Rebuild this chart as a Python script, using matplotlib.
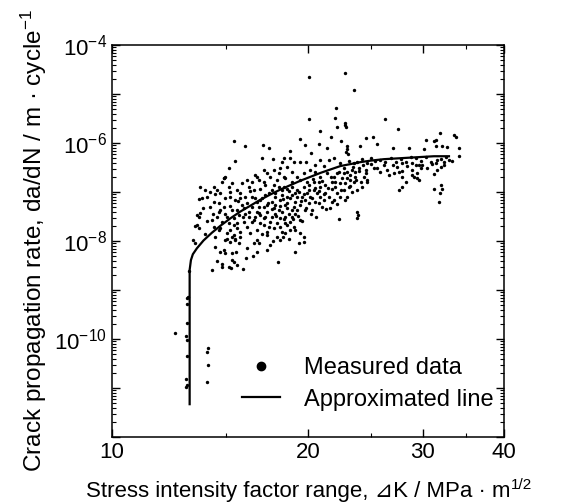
import numpy as np
import matplotlib
matplotlib.use('Agg')
import matplotlib.pyplot as plt
from matplotlib.ticker import FixedLocator, NullFormatter, LogLocator, FixedFormatter
from matplotlib.lines import Line2D
from matplotlib.transforms import IdentityTransform

plt.rcParams['font.family'] = ['Liberation Sans', 'DejaVu Sans']
plt.rcParams['mathtext.fontset'] = 'custom'
plt.rcParams['mathtext.rm'] = 'Liberation Sans'
plt.rcParams['mathtext.it'] = 'Liberation Sans:italic'

# measured data: (delta K [MPa m^1/2], log10 da/dN [m/cycle])
pts_high = [
    (20.07, -4.66), (22.79, -4.58), (23.58, -4.92), (20.07, -5.50), (22.08, -5.29),
    (22.00, -5.48), (22.13, -5.68), (22.84, -5.59), (22.90, -5.67), (22.79, -5.63),
    (26.25, -5.52), (20.86, -5.76), (21.74, -5.88), (22.52, -5.95), (27.49, -5.71),
    (31.86, -5.79), (33.52, -5.84), (33.79, -5.88), (34.07, -6.11), (34.15, -6.27),
    (15.43, -5.95), (16.01, -6.06), (17.05, -6.05), (17.46, -6.10), (18.80, -6.16),
    (19.43, -5.91), (19.83, -6.04), (20.25, -6.21), (20.79, -6.03), (21.41, -6.11),
    (22.98, -6.07), (22.98, -6.13), (22.92, -6.18), (23.03, -6.22), (24.03, -6.07),
    (24.52, -5.90), (25.20, -5.88), (25.55, -6.01), (26.98, -6.11), (28.58, -6.11),
    (30.14, -6.12), (30.39, -5.93), (31.23, -5.96), (31.41, -6.06), (32.16, -6.07),
    (32.73, -6.09), (31.49, -5.94),
]

pts_band1 = [
    (15.47, -6.36), (17.00, -6.31), (17.66, -6.33), (18.26, -6.39), (18.41, -6.31),
    (18.80, -6.30), (19.03, -6.38), (19.48, -6.38), (19.88, -6.38), (20.54, -6.45),
    (20.91, -6.35), (21.16, -6.47), (21.53, -6.35), (21.92, -6.31), (22.44, -6.40),
    (23.12, -6.36), (23.52, -6.41), (23.80, -6.38), (24.23, -6.33), (24.66, -6.41),
    (24.96, -6.31), (25.40, -6.36), (25.85, -6.35), (26.31, -6.38), (26.79, -6.31),
    (27.27, -6.38), (27.75, -6.33), (28.25, -6.38), (28.75, -6.28), (29.27, -6.31),
    (29.79, -6.36), (30.32, -6.28), (30.86, -6.38), (31.60, -6.35), (32.35, -6.38),
    (32.92, -6.35), (33.32, -6.37), (27.91, -6.41), (28.92, -6.41), (29.61, -6.45),
    (15.11, -6.50), (17.11, -6.55), (18.15, -6.52), (18.58, -6.48), (18.91, -6.59),
    (19.25, -6.69), (19.71, -6.62), (20.13, -6.55), (20.54, -6.59), (20.91, -6.69),
    (21.41, -6.62), (21.92, -6.69), (22.31, -6.59), (22.71, -6.62), (22.98, -6.72),
    (23.25, -6.65), (23.66, -6.69), (23.94, -6.52), (24.52, -6.55), (24.66, -6.76),
    (25.55, -6.52), (26.47, -6.55), (27.10, -6.62), (27.59, -6.59), (27.91, -6.69),
    (28.25, -6.79), (28.92, -6.55), (29.09, -6.69), (29.44, -6.62), (29.79, -6.52),
    (31.23, -6.63), (31.97, -6.48), (32.35, -6.45), (31.60, -6.55), (16.61, -6.65),
    (16.81, -6.76), (17.52, -6.69), (17.94, -6.76), (18.48, -6.72), (19.48, -6.76),
    (19.95, -6.79), (20.37, -6.74), (20.79, -6.79), (23.52, -6.79),
]

pts_band2 = [
    (13.67, -6.89), (13.92, -6.96), (14.17, -6.99), (14.42, -7.04), (14.94, -6.69),
    (14.89, -6.72), (14.68, -7.03), (15.20, -6.99), (15.75, -7.03), (16.22, -6.89),
    (16.51, -6.96), (16.90, -6.93), (17.21, -7.06), (17.72, -6.86), (18.04, -6.89),
    (18.26, -6.96), (18.58, -6.93), (18.91, -6.89), (19.25, -6.96), (19.71, -6.89),
    (20.07, -6.86), (20.42, -6.96), (20.91, -6.89), (21.28, -6.86), (21.79, -6.93),
    (22.18, -7.03), (22.71, -6.96), (23.12, -6.89), (23.39, -6.99), (23.80, -6.96),
    (24.23, -6.89), (24.66, -6.79), (27.59, -6.96), (27.91, -6.89), (31.23, -6.93),
    (31.97, -6.86), (32.16, -6.93), (31.89, -7.01), (29.44, -6.72), (29.61, -6.76),
    (13.75, -7.13), (14.00, -7.10), (14.33, -7.20), (14.59, -7.23), (14.85, -7.30),
    (15.17, -7.10), (15.47, -7.16), (15.75, -7.13), (16.12, -7.23), (16.42, -7.10),
    (16.71, -7.20), (17.00, -7.13), (17.31, -7.27), (17.62, -7.20), (17.83, -7.10),
    (18.15, -7.16), (18.48, -7.27), (18.80, -7.13), (19.14, -7.20), (19.48, -7.27),
    (19.83, -7.16), (20.18, -7.10), (20.54, -7.20), (20.91, -7.10), (21.03, -7.30),
    (21.66, -7.33), (21.92, -7.16), (22.44, -7.10), (22.84, -7.16), (31.78, -7.20),
    (14.17, -7.30), (14.68, -7.37), (15.29, -7.37), (15.94, -7.33), (16.81, -7.30),
    (17.72, -7.33), (18.58, -7.33), (19.25, -7.37), (23.80, -7.40), (23.86, -7.47),
]

pts_band3 = [
    (13.51, -7.47), (13.59, -7.50), (13.67, -7.42), (14.25, -7.57), (14.50, -7.50),
    (14.77, -7.61), (15.03, -7.50), (15.38, -7.54), (15.66, -7.47), (15.94, -7.61),
    (16.22, -7.50), (16.51, -7.57), (16.90, -7.47), (17.21, -7.50), (17.52, -7.61),
    (17.83, -7.44), (18.15, -7.54), (18.48, -7.50), (18.80, -7.61), (19.14, -7.44),
    (19.48, -7.57), (22.31, -7.56), (23.80, -7.54),
    (13.51, -7.67), (13.59, -7.74), (14.33, -7.71), (14.59, -7.78), (15.03, -7.84),
    (15.20, -7.78), (15.38, -7.88), (15.57, -7.74), (15.75, -7.81), (16.12, -7.71),
    (16.71, -7.78), (17.11, -7.67), (17.31, -7.81), (17.72, -7.74), (18.15, -7.71),
    (18.48, -7.84), (18.80, -7.78), (19.03, -7.71), (19.71, -7.91), (15.29, -7.91),
    (15.47, -7.98),
    (13.35, -7.98), (13.43, -8.05), (15.03, -7.95), (15.20, -8.01), (15.47, -7.95),
    (15.66, -8.05), (16.12, -8.15), (16.71, -7.98), (16.81, -8.05), (17.52, -8.08),
    (18.15, -7.98), (18.69, -7.95), (19.36, -8.05), (19.71, -8.01), (14.42, -8.12),
    (14.85, -8.18), (14.94, -8.25), (14.68, -8.22), (15.29, -8.25), (15.52, -8.22),
    (16.07, -8.35), (16.71, -8.22), (19.14, -8.22), (15.29, -8.39), (15.38, -8.42),
    (14.77, -8.46), (15.11, -8.54), (15.57, -8.49), (14.77, -8.54), (14.25, -8.59),
    (15.25, -8.56),
]

pts_dense = [
    (16.90, -7.16), (17.11, -7.30), (17.31, -7.40), (17.41, -7.03), (17.62, -6.96),
    (17.83, -7.27), (18.04, -7.37), (18.26, -7.06), (18.37, -6.89), (18.58, -7.10),
    (18.69, -7.44), (18.91, -7.06), (19.03, -7.30), (19.25, -7.10), (19.36, -6.99),
    (19.59, -7.10), (19.83, -7.37), (19.95, -7.03), (20.07, -7.23), (20.30, -7.37),
    (20.42, -6.79), (20.66, -7.03), (20.79, -7.23), (21.16, -7.16), (21.28, -7.03),
    (21.53, -7.10), (21.79, -6.79), (22.05, -6.89), (22.44, -6.82), (22.58, -6.72),
    (22.84, -6.82), (22.98, -7.10), (23.25, -6.76), (23.39, -6.55), (23.66, -6.59),
    (24.09, -6.79), (24.37, -6.69), (16.22, -7.40), (16.42, -7.30), (16.61, -7.50),
    (16.71, -7.40), (16.90, -7.64), (17.11, -7.54), (17.41, -7.71), (17.62, -7.50),
    (17.94, -7.64), (18.26, -7.40), (18.58, -7.67), (18.91, -7.50), (15.84, -7.27),
    (16.03, -7.44), (15.57, -7.37), (15.57, -7.64), (15.11, -7.64), (14.94, -7.44),
    (14.68, -7.74), (15.75, -7.91), (16.32, -7.84), (16.51, -8.05), (17.31, -7.88),
    (17.94, -7.91), (18.26, -7.81), (18.48, -7.64), (19.14, -7.78), (19.48, -7.84),
    (14.33, -6.89), (14.50, -6.96), (14.77, -6.79), (14.85, -6.72), (15.11, -6.89),
    (15.29, -6.82), (15.57, -6.96), (15.84, -6.82), (16.12, -6.76), (16.42, -6.79),
    (16.71, -6.69), (17.11, -6.79), (17.31, -6.62), (17.72, -6.55), (18.04, -6.62),
    (18.37, -6.69), (18.91, -6.79),
]

pts_extra = [
    (17.2, -6.85), (17.4, -7.22), (17.6, -7.35), (17.8, -7.02), (17.9, -7.48),
    (18.1, -7.28), (18.3, -7.15), (18.4, -7.55), (18.6, -7.22), (18.7, -6.98),
    (18.9, -7.36), (19.1, -7.02), (19.3, -7.48), (19.5, -7.18), (19.7, -7.05),
    (19.9, -7.32), (20.1, -6.95), (20.3, -7.12), (20.5, -6.92), (20.8, -6.98),
    (21.0, -6.78), (21.2, -7.05), (21.5, -6.92), (21.7, -6.70), (22.0, -6.80),
    (22.2, -6.62), (22.5, -6.95), (22.7, -6.52), (23.0, -6.60), (23.2, -6.88),
    (23.5, -6.48), (23.7, -6.75), (24.0, -6.58), (24.3, -6.45), (24.6, -6.62),
    (25.0, -6.42), (25.3, -6.50), (25.8, -6.60), (26.2, -6.44), (26.6, -6.66),
    (27.0, -6.45), (27.4, -6.48), (27.9, -6.58), (28.4, -6.46), (28.9, -6.66),
    (29.3, -6.45), (29.9, -6.44), (30.5, -6.50), (31.0, -6.42), (31.5, -6.40),
    (32.0, -6.32), (32.6, -6.28), (16.0, -7.10), (16.3, -6.98), (16.6, -7.12),
    (16.8, -7.42), (15.6, -7.18), (15.9, -7.52), (15.2, -7.28), (14.9, -7.12),
    (14.6, -7.40), (14.3, -7.45), (14.0, -7.60), (13.8, -7.32), (13.9, -7.85),
    (14.4, -7.92), (14.9, -7.98), (15.4, -7.68), (16.4, -7.62), (17.0, -7.85),
    (17.7, -8.00), (18.3, -7.92), (19.0, -7.55), (19.6, -7.60), (20.2, -7.45),
    (20.6, -7.50), (21.3, -7.35), (21.8, -7.20), (22.2, -7.25), (13.6, -7.15),
    (13.4, -7.70), (16.5, -8.30), (17.3, -8.18), (18.0, -8.42), (15.9, -8.58),
    (14.5, -8.40),
]

pts_threshold = [
    (13.15, -8.61), (13.09, -9.14), (13.05, -9.17), (13.07, -9.29), (13.05, -9.68),
    (12.52, -9.88), (13.01, -9.94), (13.05, -10.02), (13.03, -10.34), (13.01, -10.82),
    (13.03, -10.94), (13.01, -10.97), (14.03, -10.18), (14.02, -10.26), (14.05, -10.53),
    (14.02, -10.88),
]

# approximated line
line_dk = [13.17, 13.17, 13.23, 13.32, 13.51, 13.83, 14.25, 14.68, 15.20, 15.75,
           16.32, 16.90, 17.52, 18.15, 18.80, 19.48, 20.18, 20.91, 21.66, 22.44,
           23.25, 24.09, 24.96, 26.16, 27.75, 29.44, 31.23, 32.93]
line_logr = [-11.33, -8.59, -8.39, -8.27, -8.15, -7.99, -7.83, -7.69, -7.54, -7.40,
             -7.28, -7.16, -7.05, -6.95, -6.86, -6.77, -6.69, -6.61, -6.54, -6.47,
             -6.43, -6.39, -6.36, -6.33, -6.31, -6.29, -6.27, -6.27]

meas = np.array(pts_high + pts_band1 + pts_band2 + pts_band3 + pts_dense
                + pts_extra + pts_threshold)

fig = plt.figure(figsize=(5.62, 5.04), dpi=100)
ax = fig.add_axes([0.1988, 0.1329, 0.698, 0.7778])

ax.scatter(meas[:, 0], 10.0 ** meas[:, 1], s=6, color='k', linewidths=0, zorder=2)
ax.plot(line_dk, 10.0 ** np.array(line_logr), color='k', lw=1.6, zorder=3)

ax.set_xscale('log')
ax.set_yscale('log')
ax.set_xlim(10, 40)
ax.set_ylim(1e-12, 1e-4)

ax.xaxis.set_major_locator(FixedLocator([10, 20, 30, 40]))
ax.xaxis.set_major_formatter(FixedFormatter(['10', '20', '30', '40']))
ax.xaxis.set_minor_locator(FixedLocator([15, 25, 35]))
ax.xaxis.set_minor_formatter(NullFormatter())

yt = [10.0 ** e for e in range(-12, -3)]
ylab = ['' if (e % 2 or e == -12) else r'$10^{%d}$' % e for e in range(-12, -3)]
ax.yaxis.set_major_locator(FixedLocator(yt))
ax.yaxis.set_major_formatter(FixedFormatter(ylab))
ax.yaxis.set_minor_locator(LogLocator(base=10, subs=np.arange(2, 10), numticks=20))
ax.yaxis.set_minor_formatter(NullFormatter())

ax.tick_params(which='both', direction='in', top=True, right=True, labelsize=16)
ax.tick_params(which='major', length=6, width=1)
ax.tick_params(which='minor', length=3, width=0.8)
for sp in ax.spines.values():
    sp.set_linewidth(1.1)

ax.set_xlabel('Stress intensity factor range, \u22bfK / MPa \u00b7 m', fontsize=16, labelpad=13)
ax.xaxis.label.set_x(0.475)
ax.set_ylabel('Crack propagation rate, da/dN / m \u00b7 cycle$^{-1}$', fontsize=17.5, labelpad=4)

handles = [Line2D([], [], marker='o', ls='', ms=6, color='k'),
           Line2D([], [], color='k', lw=1.6)]
ax.legend(handles, ['Measured data', 'Approximated line'], loc='lower right',
          bbox_to_anchor=(1.015, 0.025), frameon=False, fontsize=17,
          handlelength=1.6, handletextpad=1.0, labelspacing=0.4, borderpad=0.2)

# superscript 1/2 after the x label
fig.canvas.draw()
bb = ax.xaxis.label.get_window_extent(fig.canvas.get_renderer())
fig.text(bb.x1 + 1, bb.y1 + 3, '1/2', fontsize=11, va='top', ha='left',
         transform=IdentityTransform())

fig.savefig('out.png', dpi=100)
